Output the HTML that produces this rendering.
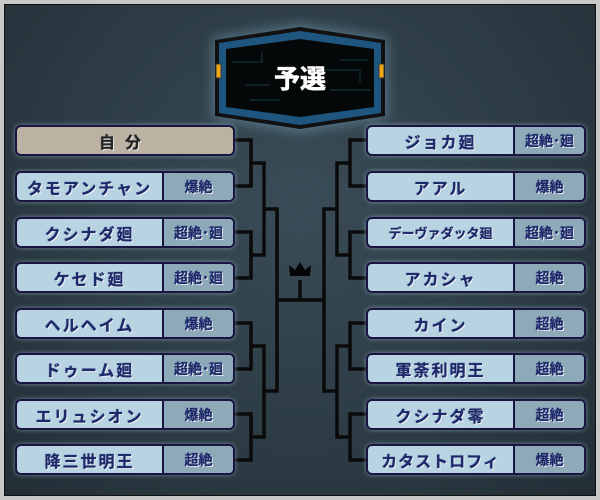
<!DOCTYPE html>
<html><head><meta charset="utf-8"><style>
body{margin:0;width:600px;height:500px;overflow:hidden;background:#c8c8c8;font-family:"Liberation Sans","Noto Sans CJK JP",sans-serif;}
.frame{position:absolute;left:4px;top:4px;width:592px;height:492px;background:radial-gradient(ellipse at 50% 40%,#3a4c57 0%,#2c3b44 60%,#222e36 100%);border:1px solid #111;box-sizing:border-box;}
.box{position:absolute;height:31px;width:220px;border:2px solid #1a1440;border-radius:6px;background:#b8d4e2;box-sizing:border-box;display:flex;overflow:hidden;box-shadow:0 0 5px rgba(180,220,240,.5);font-weight:bold;color:#1c2a6a;text-shadow:0 0 1px #1c2a6a,1px 1px 0 #fff;}
.n{flex:0 0 145px;display:flex;align-items:center;justify-content:center;font-size:16px;letter-spacing:2px;border-right:2px solid #1a1440;}
.t{flex:1;display:flex;align-items:center;justify-content:center;font-size:14px;background:#8eaab8;}
.me{background:#bcb2a4;color:#222;text-shadow:0 0 1px #222,1px 1px 0 #fff;}
.me .n{flex:1;border:none;letter-spacing:10px}
</style></head><body>
<div class="frame"></div>
<svg width="600" height="500" style="position:absolute;left:0;top:0">
<defs><filter id="g"><feGaussianBlur stdDeviation="6"/></filter></defs>
<polygon points="213,38 300,24 387,38 387,118 300,132 213,118" fill="#9cd0f0" opacity=".35" filter="url(#g)"/>
<polygon points="215,40 300,27 385,40 385,116 300,129 215,116" fill="#111" />
<polygon points="219,43 300,31 381,43 381,113 300,125 219,113" fill="#1f5680"/>
<polygon points="226,49 300,39 374,49 374,107 300,117 226,107" fill="#050808"/>
<g stroke="#153038" stroke-width="1.3" fill="none">
<path d="M232,62 H262 V52 M245,85 H270 M340,60 H368 M330,90 H370 M250,100 H280 M320,70 H360 V82"/>
</g>
<rect x="216" y="64" width="5" height="14" fill="#f0a818" stroke="#333"/>
<rect x="379" y="64" width="5" height="14" fill="#f0a818" stroke="#333"/>
<text x="300" y="88" fill="#fff" font-size="26" font-weight="bold" text-anchor="middle" font-family="Liberation Sans,Noto Sans CJK JP,sans-serif" stroke="#fff" stroke-width=".6">予選</text>
<g stroke="#0a0a0a" stroke-width="3.5" fill="none">
<path d="M235,140 H251 V186 H235 M235,232 H251 V278 H235 M235,323 H251 V369 H235 M235,414 H251 V460 H235"/>
<path d="M251,163 H264 V255 H251 M251,346 H264 V437 H251"/>
<path d="M264,209 H277 V391 H264"/>
<path d="M366,140 H350 V186 H366 M366,232 H350 V278 H366 M366,323 H350 V369 H366 M366,414 H350 V460 H366"/>
<path d="M350,163 H337 V255 H350 M350,346 H337 V437 H350"/>
<path d="M337,209 H324 V391 H337"/>
<path d="M277,300 H324 M300,300 V280"/>
</g>
<polygon points="290,276 289,265 295,270 300,262 305,270 311,265 310,276" fill="#050505"/>
</svg>
<div class="box me" style="left:15px;top:125px"><div class="n">自分</div></div>
<div class="box" style="left:15px;top:171px"><div class="n">タモアンチャン</div><div class="t">爆絶</div></div>
<div class="box" style="left:15px;top:217px"><div class="n">クシナダ廻</div><div class="t">超絶･廻</div></div>
<div class="box" style="left:15px;top:262px"><div class="n">ケセド廻</div><div class="t">超絶･廻</div></div>
<div class="box" style="left:15px;top:308px"><div class="n">ヘルヘイム</div><div class="t">爆絶</div></div>
<div class="box" style="left:15px;top:353px"><div class="n">ドゥーム廻</div><div class="t">超絶･廻</div></div>
<div class="box" style="left:15px;top:399px"><div class="n">エリュシオン</div><div class="t">爆絶</div></div>
<div class="box" style="left:15px;top:444px"><div class="n">降三世明王</div><div class="t">超絶</div></div>
<div class="box" style="left:366px;top:125px"><div class="n">ジョカ廻</div><div class="t">超絶･廻</div></div>
<div class="box" style="left:366px;top:171px"><div class="n">アアル</div><div class="t">爆絶</div></div>
<div class="box" style="left:366px;top:217px"><div class="n" style="font-size:13px;letter-spacing:0">デーヴァダッタ廻</div><div class="t">超絶･廻</div></div>
<div class="box" style="left:366px;top:262px"><div class="n">アカシャ</div><div class="t">超絶</div></div>
<div class="box" style="left:366px;top:308px"><div class="n">カイン</div><div class="t">超絶</div></div>
<div class="box" style="left:366px;top:353px"><div class="n">軍荼利明王</div><div class="t">超絶</div></div>
<div class="box" style="left:366px;top:399px"><div class="n">クシナダ零</div><div class="t">超絶</div></div>
<div class="box" style="left:366px;top:444px"><div class="n" style="letter-spacing:1px">カタストロフィ</div><div class="t">爆絶</div></div>
</body></html>
